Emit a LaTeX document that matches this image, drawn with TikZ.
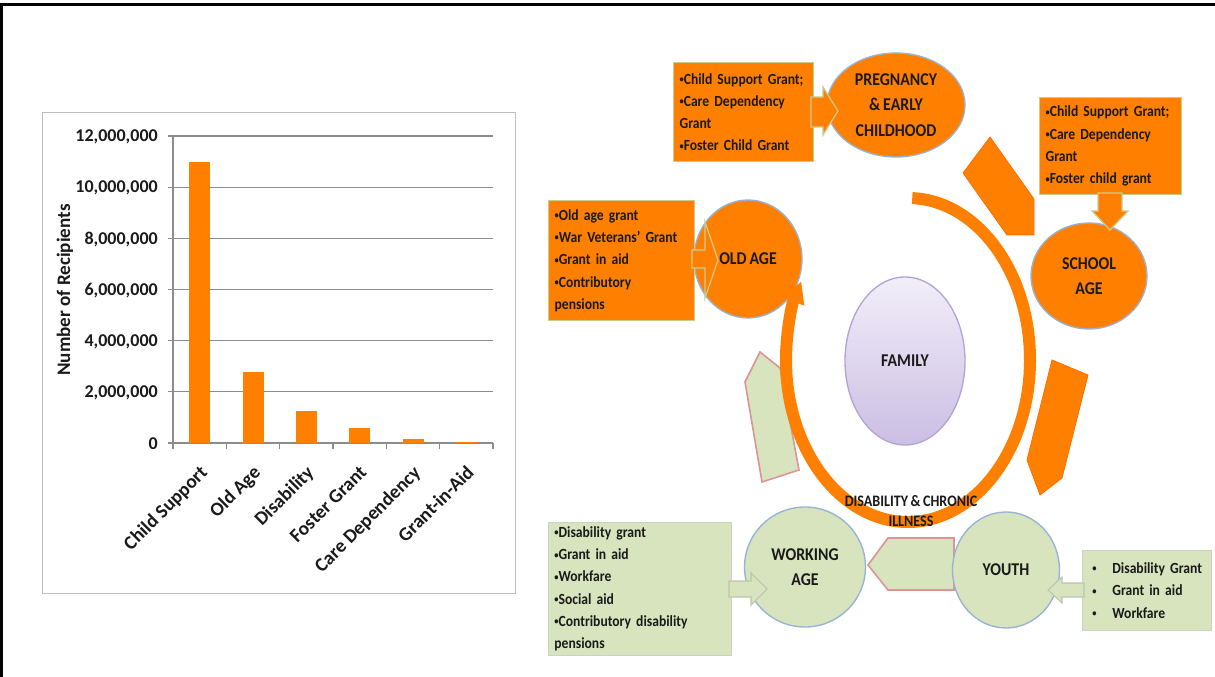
\documentclass[tikz,border=0pt]{standalone}
\usepackage{fontspec}
\setmainfont{Carlito}
\newfontfamily\chartfont{Carlito}
\newfontfamily\cyclefont[FakeStretch=0.88,WordSpace=0.8]{Carlito}
\usetikzlibrary{shapes.geometric,arrows.meta,calc}

\definecolor{orng}{HTML}{FF8000}
\definecolor{grn}{HTML}{D7E4BD}
\definecolor{pinkline}{HTML}{D99694}
\definecolor{blueline}{HTML}{95B3D7}
\definecolor{boxline}{HTML}{C9CC8E}
\definecolor{gridc}{HTML}{8C8C8C}
\definecolor{chartframe}{HTML}{BFBFBF}
\definecolor{famtop}{HTML}{F2EEF9}
\definecolor{fambot}{HTML}{CBBEE4}
\definecolor{famline}{HTML}{B3A5D3}
\definecolor{ink}{HTML}{1A1A1A}

% small list bullet
\newcommand\listdot{\raisebox{0.1em}{\scalebox{0.62}{•}}}

\begin{document}
\begin{tikzpicture}[x=0.75pt,y=-0.75pt,
  ticklabel/.style={font=\chartfont\bfseries\fontsize{13.5}{15}\selectfont, text=ink, anchor=east, inner sep=0pt},
  catlabel/.style={font=\chartfont\bfseries\fontsize{14.5}{16}\selectfont, text=ink, rotate=45, anchor=north east, inner sep=0pt},
  bartop/.style={fill=orng},
  gridline/.style={draw=gridc, line width=0.8pt},
  boxtext/.style={font=\cyclefont\bfseries\fontsize{11.6}{16.7}\selectfont, text=ink, align=left, inner xsep=4.5pt, inner ysep=0pt, anchor=north west},
  obox/.style={boxtext, fill=orng, draw=boxline, line width=0.9pt},
  gbox/.style={boxtext, fill=grn, draw=grn!80!black!60, line width=0.6pt},
  stagetext/.style={font=\cyclefont\bfseries\fontsize{13.5}{19}\selectfont, text=ink, align=center},
  ocirc/.style={ellipse, stagetext, fill=orng, draw=blueline, line width=1pt, inner sep=0pt},
  gcirc/.style={ellipse, stagetext, fill=grn, draw=blueline, line width=1pt, inner sep=0pt},
  oarrow/.style={fill=orng, draw=boxline, line width=0.9pt, line join=miter},
  garrow/.style={fill=grn, draw=grn!75!black!70, line width=0.8pt},
  opent/.style={fill=orng, draw=orng!85!red, line width=0.6pt},
  gpent/.style={fill=grn, draw=pinkline, line width=1.2pt},
]
\useasboundingbox (0,0) rectangle (1215,677);
\fill[white] (0,0) rectangle (1215,677);

% outer frame
\draw[line width=2.6pt] (0,4.5) -- (1215,4.5);
\draw[line width=2pt] (1.5,4.5) -- (1.5,677);

% ---------------- bar chart ----------------
\node[draw=chartframe, line width=0.9pt, inner sep=0pt, anchor=north west,
      minimum width=354.75pt, minimum height=360.75pt] (chart) at (42,112) {};

\foreach \k in {1,...,6}
  \draw[gridline] (168,{443-\k*51.17}) -- (493,{443-\k*51.17});
\draw[gridline] (173,136) -- (173,443);
\draw[gridline] (168,443) -- (493,443);
\foreach \k in {0,...,6}
  \draw[gridline] ({173+53.33*\k},443) -- ({173+53.33*\k},449);

\foreach \k/\lab in {0/0, 1/{2,000,000}, 2/{4,000,000}, 3/{6,000,000},
                     4/{8,000,000}, 5/{10,000,000}, 6/{12,000,000}}
  \node[ticklabel] (yl\k) at (158,{444-\k*51.17}) {\lab};

\foreach \i/\v in {0/11.0, 1/2.77, 2/1.25, 3/0.59, 4/0.14, 5/0.05}
  \fill[bartop] ({173+53.33*\i+16.2},443) rectangle ++(21,{-\v*25.583});

\foreach \i/\lab in {0/Child Support, 1/Old Age, 2/Disability, 3/Foster Grant,
                     4/Care Dependency, 5/Grant-in-Aid}
  \node[catlabel] (cat\i) at ({173+53.33*(\i+0.5)-1},464) {\lab};

\node[rotate=90, font=\chartfont\bfseries\fontsize{14.3}{16}\selectfont, text=ink]
  (ytitle) at (65,290) {Number of Recipients};

% ---------------- life-cycle diagram ----------------
% side chevrons between stages
\path[opent] (990,137) -- (1034,199) -- (1034,235) -- (1007,235) -- (963,173) -- cycle;
\path[opent] (1052,360) -- (1088,375) -- (1062,478) -- (1040,495) -- (1027,460) -- cycle;
\path[gpent] (760,352) -- (780,368) -- (799,470) -- (762,482) -- (745,382) -- cycle;
\path[gpent] (868,565) -- (888,538) -- (954,538) -- (954,590) -- (888,590) -- cycle;

% centre
\node[ellipse, top color=famtop, bottom color=fambot, draw=famline, line width=1pt,
      minimum width=90pt, minimum height=126pt, inner sep=0pt, stagetext]
  (family) at (905,361) {FAMILY};

% stages
\node[ocirc, minimum width=103.5pt, minimum height=78pt] (preg) at (896,105)
  {PREGNANCY\\\& EARLY\\CHILDHOOD};
\node[ocirc, minimum width=87pt, minimum height=79.5pt] (school) at (1089,276)
  {SCHOOL\\AGE};
\node[ocirc, minimum width=81pt, minimum height=88.5pt] (old) at (748,259)
  {OLD AGE};
\node[gcirc, minimum width=90.75pt, minimum height=90pt] (work) at (805,567)
  {WORKING\\AGE};
\node[gcirc, minimum width=80.25pt, minimum height=87pt] (youth) at (1006,570)
  {YOUTH};

% grant boxes
\node[obox, text width=96pt, minimum height=74.25pt] (pregbox) at (673,62)
  {\listdot Child Support Grant;\\\listdot Care Dependency\\Grant\\\listdot Foster Child Grant};
\node[obox, text width=97.5pt, minimum height=72.75pt] (schoolbox) at (1039,97)
  {\listdot Child Support Grant;\\\listdot Care Dependency\\Grant\\\listdot Foster child grant};
\node[obox, text width=100.5pt, minimum height=90pt] (oldbox) at (548,200)
  {\listdot Old age grant\\\listdot War Veterans’ Grant\\\listdot Grant in aid\\\listdot Contributory\\pensions};
\node[gbox, text width=128.25pt, minimum height=99.75pt] (workbox) at (548,522)
  {\listdot Disability grant\\\listdot Grant in aid\\\listdot Workfare\\\listdot Social aid\\\listdot Contributory disability\\pensions};
\node[gbox, inner xsep=2pt, text width=92.75pt, minimum height=60pt] (youthbox) at (1082,550)
  {\hspace*{5.5pt}\makebox[15pt][l]{\listdot}Disability Grant\\\hspace*{5.5pt}\makebox[15pt][l]{\listdot}Grant in aid\\\hspace*{5.5pt}\makebox[15pt][l]{\listdot}Workfare};

% block arrows from the boxes to the stages
\path[oarrow] (811,97) -- (823,97) -- (823,87) -- (838,111) -- (823,135) -- (823,127) -- (811,127) -- cycle;
\path[oarrow] (1098,193) -- (1098,211) -- (1092,211) -- (1110,230) -- (1128,211) -- (1122,211) -- (1122,193) -- cycle;
\path[oarrow] (692,250) -- (705,250) -- (705,222) -- (718,260) -- (705,298) -- (705,268) -- (692,268) -- cycle;
\path[garrow] (729,581) -- (751,581) -- (751,573) -- (767,589) -- (751,605) -- (751,597) -- (729,597) -- cycle;
\path[garrow] (1084,583) -- (1062,583) -- (1062,577) -- (1048,590) -- (1062,603) -- (1062,597) -- (1084,597) -- cycle;

% cycle ring round the family
\draw[orng, line width=9pt, -{Triangle[length=16pt,width=17pt]}]
  (908,360) ++(-88:122 and 162) arc[start angle=-88, end angle=209, x radius=122, y radius=162];

\node[font=\cyclefont\bfseries\fontsize{12}{15}\selectfont, text=ink, align=center, inner sep=0pt]
  (dis) at (911,511) {DISABILITY \& CHRONIC\\ILLNESS};
\end{tikzpicture}
\end{document}
